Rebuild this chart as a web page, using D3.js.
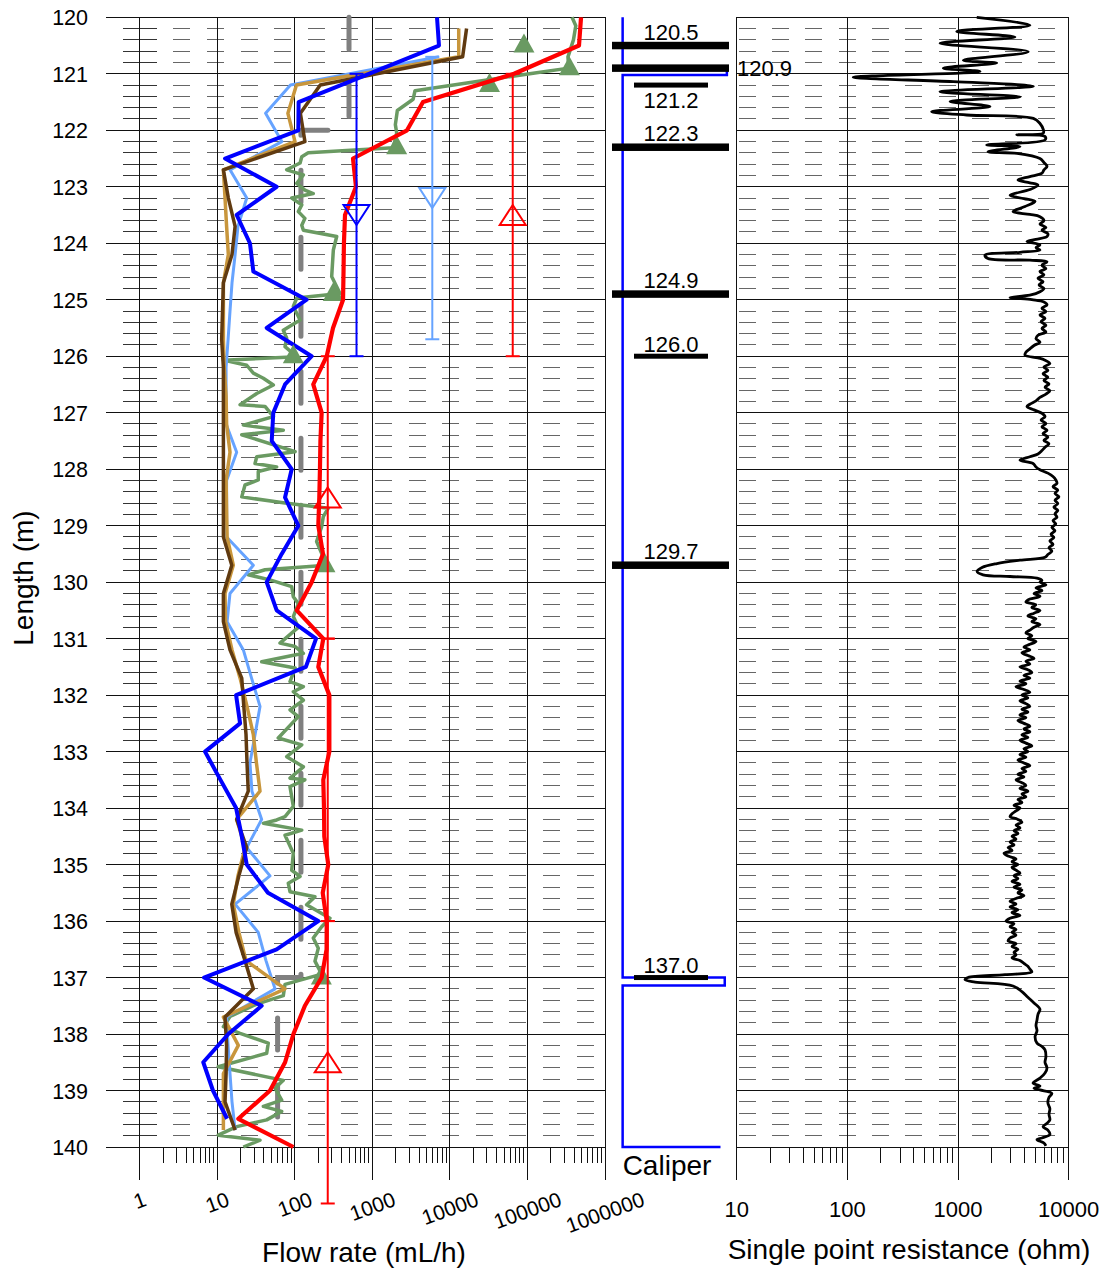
<!DOCTYPE html>
<html>
<head>
<meta charset="utf-8">
<script src="https://cdn.jsdelivr.net/npm/d3@7"></script>
<style>
  body { margin: 0; background: #fff; }
  svg { display: block; }
  text { font-family: "Liberation Sans", Arial, sans-serif; fill: #000; }
</style>
</head>
<body>
<svg id="chart" width="1106" height="1271"></svg>
<script>
// ---------- axis ticks ----------
const depthTicks = [120,121,122,123,124,125,126,127,128,129,130,131,132,133,134,135,136,137,138,139,140];
const flowTicks = [1, 10, 100, 1000, 10000, 100000, 1000000];
const resTicks = [10, 100, 1000, 10000];

// ---------- flow rate profiles (mL/h) ----------
// red: 0.5 m steps from 120.0 to 140.0
const redDepth = [120.0,120.5,121.0,121.5,122.0,122.5,123.0,123.5,124.0,124.5,125.0,125.5,126.0,126.5,127.0,127.5,128.0,128.5,129.0,129.5,130.0,130.5,131.0,131.5,132.0,132.5,133.0,133.5,134.0,134.5,135.0,135.5,136.0,136.5,137.0,137.5,138.0,138.5,139.0,139.5,140.0];
const redFlow = [491000,462000,67100,4500,2800,563,615,444,430,425,419,311,258,173,222,214,211,207,201,231,165,106,233,201,279,279,279,233,238,240,270,229,258,257,222,135,96,75,48,18.7,96];

// blue: 0.5 m steps from 120.0 to 139.5
const blueDepth = [120.0,120.5,121.0,121.5,122.0,122.5,123.0,123.5,124.0,124.5,125.0,125.5,126.0,126.5,127.0,127.5,128.0,128.5,129.0,129.5,130.0,130.5,131.0,131.5,132.0,132.5,133.0,133.5,134.0,134.5,135.0,135.5,136.0,136.5,137.0,137.5,138.0,138.5,139.0,139.5];
const blueFlow = [6820,7230,902,112,111,12.6,58.4,17.8,26.4,29.2,142,43.4,165,74.8,52.8,50.4,91.2,74.8,111,67.8,43.4,58.4,188,139,17.5,19.7,6.95,11,17.5,20.7,24,45,201,58.4,6.75,37.4,13.9,6.6,8.8,13.4];

// light blue: 0.5 m steps from 120.7 to 139.7
const lightDepth = [120.7,121.2,121.7,122.2,122.7,123.2,123.7,124.2,124.7,125.2,125.7,126.2,126.7,127.2,127.7,128.2,128.7,129.2,129.7,130.2,130.7,131.2,131.7,132.2,132.7,133.2,133.7,134.2,134.7,135.2,135.7,136.2,136.7,137.2,137.7,138.2,138.7,139.2,139.7];
const lightFlow = [7230,88,42,68,14.6,24,18.5,17,15.5,14.6,13.8,13,13,13,17.8,13.2,13.2,13.2,29.2,14.6,13.4,21.7,27.7,35.6,30.7,26.4,28,37.4,24,47.9,17,33.8,42.5,55.6,13.2,13.8,14.6,15.5,17];

// gold and brown: 0.5 m steps from 120.2 to 139.7
const shiftDepth = [120.2,120.7,121.2,121.7,122.2,122.7,123.2,123.7,124.2,124.7,125.2,125.7,126.2,126.7,127.2,127.7,128.2,128.7,129.2,129.7,130.2,130.7,131.2,131.7,132.2,132.7,133.2,133.7,134.2,134.7,135.2,135.7,136.2,136.7,137.2,137.7,138.2,138.7,139.2,139.7];
const goldFlow = [13000,13000,105,81.5,100.6,12,12.6,13.2,13.9,12,12,12,12.3,13,13.2,14.6,13,13.2,13.4,16.1,12.6,12.8,15.5,19.7,24.2,29.2,32,35.6,17.8,22.8,18.5,16.1,19,23.5,74.8,12,18.7,12,12,12];
const brownFlow = [16400,14600,213,118,135,12,13.9,17,15.5,12,11.7,11.4,12,12,12,12,12,12,12,15.4,12,12,14.6,20.7,22,23.5,24.2,25.1,17.8,24,19,15.4,17.5,22.8,29.2,12.6,13.2,13,12.6,17];

// green: fine-resolution profile
const greenDepth = [
  120.0,120.15,120.4,120.7,120.9,121.1,121.3,121.45,121.65,121.9,
  122.05,122.31,122.4,122.47,122.58,122.7,122.79,122.94,123.06,123.12,
  123.2,123.32,123.44,123.56,123.68,123.77,123.88,124.12,124.59,124.89,
  124.97,125.12,125.36,125.54,125.68,125.83,126.01,126.07,126.16,126.3,
  126.39,126.51,126.66,126.86,126.89,127.07,127.22,127.31,127.39,127.69,
  127.78,127.9,127.96,128.04,128.19,128.28,128.49,128.6,128.69,128.84,
  129.02,129.28,129.7,129.78,129.87,129.96,130.08,130.26,130.38,130.61,
  130.8,131.08,131.14,131.26,131.41,131.52,131.76,131.85,131.94,132.09,
  132.26,132.38,132.76,132.88,133.09,133.27,133.47,133.5,133.62,133.97,
  134.15,134.21,134.27,134.39,134.48,134.8,135.1,135.21,135.33,135.48,
  135.57,135.71,135.95,136.1,136.3,136.48,136.71,136.94,137.12,137.32,
  137.47,137.69,137.87,137.99,138.16,138.34,138.58,138.82,138.96,139.17,
  139.28,139.37,139.52,139.64,139.79,139.88,140.0];
const greenFlow = [
  376000,420000,392000,333000,340000,33200,3550,3360,2100,1980,
  2060,1860,149,123,117,78.6,129,106,135,173,
  91.2,123,111,135,123,129,347,314,299,383,
  106,95.7,117,71.1,78.6,74.8,106,12,24,29.2,
  39.3,52.9,32.3,19.7,41.3,52.9,21.7,71.1,20.7,101,
  32.3,30.7,58.4,33.8,33.8,22.8,20.7,74.8,270,233,
  222,191,258,41.3,25.1,47.9,91.2,95.7,111,95.7,
  111,64.4,101,129,37.4,101,86.7,129,95.7,129,
  86.7,111,61.2,123,78.6,129,86.7,135,86.7,95.7,
  74.8,58.4,39.3,123,74.8,95.7,91.2,117,82.4,86.7,
  182,142,284,222,173,201,182,222,74.8,71.1,
  32.3,14.6,12,19.7,45.5,43.4,10.3,71.1,55.6,67.8,
  39.3,67.8,43.4,17.8,10.3,35.6,21.7];

// green markers at the fracture depths
const greenMarkDepth = [120.5, 120.9, 121.2, 122.3, 124.9, 126.0, 129.7, 137.0];
const greenMarkFlow = [90200, 347000, 32400, 2060, 314, 95.7, 245, 220];

// lower measurement limit (step line)
const limitDepth = [120.0, 122.0, 122.0, 137.0, 137.0, 140.0];
const limitFlow = [500, 500, 120, 120, 60, 60];

// interval results: vertical range with a marker at the centre
const intSeries = ["blue", "light", "red", "red", "red", "red"];
const intFlow = [625, 5930, 64600, 266, 266, 266];
const intTop = [121.0, 120.7, 121.0, 126.0, 131.0, 136.0];
const intBottom = [126.0, 125.7, 126.0, 131.0, 136.0, 141.0];
const intMarker = ["down", "down", "up", "up", "none", "up"];

// ---------- fractures ----------
const fractureDepth = [120.5, 120.9, 121.2, 122.3, 124.9, 126.0, 129.7, 137.0];
const fractureMajor = [true, true, false, true, true, false, true, false];
const fractureLabelSide = ["above", "right", "below", "above", "above", "above", "above", "above"];

// ---------- caliper (mm) ----------
const caliperDepth = [120.0, 120.88, 120.88, 121.02, 121.02, 137.0, 137.0, 137.14, 137.14, 140.0, 140.0];
const caliperValue = [76, 76, 85.8, 85.8, 76, 76, 85.6, 85.6, 76, 76, 85.2];

// ---------- single point resistance (ohm) ----------
const resDepthUpper = [
  120.00,120.14,120.25,120.35,120.46,120.61,120.76,120.81,120.90,120.96,
  121.06,121.14,121.22,121.32,121.41,121.49,121.58,121.67,121.73,121.79,
  121.88,121.99,122.05,122.08,122.11,122.17,122.26,122.29,122.38,
  122.41,122.50,122.57,122.64,122.70,122.76,122.82,122.88,122.93,122.97,
  123.05,123.15,123.21,123.26,123.35,123.44,123.49,123.53,123.60,123.66,
  123.72,123.77,123.83,123.88,123.93,123.97,124.03,124.08,124.12,124.16,
  124.21,124.27,124.30,124.33,124.39,124.45,124.50,124.56,124.62,124.68,
  124.74,124.80,124.86,124.92,124.96,125.00,125.04,125.09,125.15,125.21,
  125.27,125.33,125.39,125.45,125.51,125.57,125.63,125.69,125.75,125.81,
  125.87,125.93,125.98,126.03,126.07,126.13,126.19,126.25,126.31,126.37,
  126.43,126.49,126.55,126.61,126.67,126.73,126.79,126.85,126.89,126.95,
  127.01,127.07,127.13,127.19,127.25,127.31,127.37,127.43,127.49,127.55,
  127.61,127.67,127.73,127.78,127.84,127.90,127.96,128.01,128.07,128.13,
  128.19,128.25,128.31,128.37,128.43,128.49,128.55,128.61,128.67,128.73,
  128.79,128.85,128.91,128.97,129.03,129.09,129.15,129.21,129.27,129.33,
  129.39,129.45,129.51,129.56,129.61,129.67,129.74,129.81,129.87,129.90,
  129.93,129.97];
const resValueUpper = [
  1476,4470,973,3271,687,4315,1116,2237,736,1581,
  113,905,4790,687,3628,847,1945,578,1198,4790,
  5500,5900,5900,3388,6110,6110,1816,3628,1866,
  3412,5499,5972,6368,5972,5731,4457,3480,4457,5277,
  4457,2951,3939,4962,4028,3140,4457,5499,5972,5499,
  6224,5731,6486,6368,5064,4198,5499,5064,5499,3627,
  1754,1866,4457,6368,5731,6224,5499,5972,5277,5861,
  5393,5972,5499,4457,2951,4645,5972,6368,5731,6224,
  5499,6109,5623,6224,5731,6224,5277,5064,5499,4860,
  4457,4104,4028,5277,6109,6759,5972,6486,5861,6486,
  5972,6637,6109,6759,6224,5499,5064,4457,4198,4860,
  5731,6109,5623,6224,5731,6368,5861,6486,5972,6637,
  6109,5731,5277,4457,3627,4760,5064,5499,6486,7211,
  7649,7834,7211,7971,7516,8166,7516,7971,7340,7971,
  7516,7834,7211,7649,7043,7516,6918,7340,6759,7211,
  6637,7043,6486,6109,3627,2249,1648,1486,1683,2951,
  5171,5731];

const resDepthMiddle = [
  130.00,130.05,130.10,130.15,130.20,130.25,130.30,130.35,130.40,130.45,
  130.50,130.55,130.60,130.65,130.70,130.75,130.80,130.85,130.90,130.95,
  131.00,131.05,131.10,131.15,131.20,131.25,131.30,131.35,131.40,131.45,
  131.50,131.55,131.60,131.65,131.70,131.75,131.80,131.85,131.90,131.95,
  132.00,132.05,132.10,132.15,132.20,132.25,132.30,132.35,132.40,132.45,
  132.50,132.55,132.60,132.65,132.70,132.75,132.80,132.85,132.90,132.95,
  133.00,133.05,133.10,133.15,133.20,133.25,133.30,133.35,133.40,133.45,
  133.50,133.55,133.60,133.65,133.70,133.75,133.80,133.85,133.90,133.95,
  134.00,134.05,134.10,134.15,134.20,134.25,134.30,134.35,134.40,134.45,
  134.50,134.55,134.60,134.65,134.70,134.75,134.80,134.85,134.90,134.95,
  135.00,135.05,135.10,135.15,135.20,135.25,135.30,135.35,135.40,135.45,
  135.50,135.55,135.60,135.65,135.70,135.75,135.80,135.85,135.90,135.95,
  136.00,136.05,136.10,136.15,136.20,136.25,136.30,136.35,136.40,136.45,
  136.50,136.55,136.60,136.65,136.70,136.75,136.80,136.85,136.90,136.95,
  137.00];
const resValueMiddle = [
  5499,6224,5064,5731,4860,5499,4457,4104,5064,4645,
  5499,4860,4277,5064,4645,5499,4860,4457,4104,4645,
  4277,5064,4457,3939,4457,3779,4277,4860,4104,4457,
  3627,4277,4645,3939,4457,3627,4104,3339,3939,4457,
  3779,4277,3627,4104,4457,3779,4277,3627,4104,3480,
  3939,4457,3939,4457,3779,4277,3627,4104,4645,3939,
  4277,3627,4104,3480,3939,4457,3779,4104,3480,3939,
  3339,3779,4104,3627,4277,3779,4104,3480,3779,3204,
  3627,3339,3075,2951,3480,3779,3339,3627,3204,3480,
  3075,3339,2951,3204,2832,3075,2604,2832,3339,3075,
  3480,3075,3339,3627,3204,3480,3075,3627,3204,3779,
  3480,3939,3339,2951,3339,2951,3480,3075,3627,2951,
  2716,3204,2951,3339,3075,3339,2951,2832,3339,3075,
  3480,3204,3339,3075,3627,3939,4277,4457,4645,2659,
  1231];

const resDepthLower = [
  137.04,137.08,137.15,137.25,137.35,137.45,137.56,137.65,137.75,137.85,
  137.94,138.05,138.16,138.22,138.28,138.40,138.50,138.60,138.69,138.78,
  138.87,138.92,138.96,138.99,139.05,139.12,139.22,139.32,139.42,139.52,
  139.58,139.64,139.70,139.78,139.84,139.87,139.93,139.98];
const resValueLower = [
  1157,1426,3140,3779,4277,4860,5499,5277,5171,5064,
  5171,4962,5171,5731,6109,6224,6109,6368,6109,5499,
  4760,5499,4860,5499,7043,6637,6486,6759,6637,6759,
  6368,5861,6486,6759,5731,5171,5972,6224];

// ---------- layout ----------
const svg = d3.select("#chart");

const y = d3.scaleLinear().domain([120, 140]).range([17.3, 1147]);
const xFlow = d3.scaleLog().domain([1, 1e6]).range([139.7, 605]);
const xRes = d3.scaleLog().domain([10, 10000]).range([736.7, 1068.7]);
const xCal = d3.scaleLinear().domain([75, 86]).range([612, 729]);

const flowLeft = 106, flowRight = xFlow(1e6);
const resLeft = xRes(10), resRight = xRes(10000);
const yTop = y(120), yBot = y(140), majorTickEnd = 1180, minorTickEnd = 1163;

const minorDepths = d3.range(120, 140, 0.2).map(d => +d.toFixed(1)).filter(d => Math.abs(d - Math.round(d)) > 0.01);

const colors = { red: "#ff0000", blue: "#0000ff", light: "#66a3ff", gold: "#c8963c", brown: "#603a10", green: "#6a9a62", gray: "#808080" };

const grid = svg.append("g");

// --- panel grids ---
minorDepths.forEach(d => {
  grid.append("line").attr("x1", 123).attr("x2", 157).attr("y1", y(d)).attr("y2", y(d))
    .attr("stroke", "#333").attr("stroke-width", 1).attr("shape-rendering", "crispEdges");
  grid.append("line").attr("x1", 173.3).attr("x2", flowRight - 8).attr("y1", y(d)).attr("y2", y(d))
    .attr("stroke", "#666").attr("stroke-width", 1).attr("stroke-dasharray", "17,16.6").attr("shape-rendering", "crispEdges");
  grid.append("line").attr("x1", resLeft + 2).attr("x2", resRight - 8).attr("y1", y(d)).attr("y2", y(d))
    .attr("stroke", "#666").attr("stroke-width", 1).attr("stroke-dasharray", "17,16.3").attr("shape-rendering", "crispEdges");
});
depthTicks.forEach(d => {
  grid.append("line").attr("x1", flowLeft).attr("x2", flowRight).attr("y1", y(d)).attr("y2", y(d))
    .attr("stroke", "#111").attr("stroke-width", 1).attr("shape-rendering", "crispEdges");
  grid.append("line").attr("x1", resLeft).attr("x2", resRight).attr("y1", y(d)).attr("y2", y(d))
    .attr("stroke", "#111").attr("stroke-width", 1).attr("shape-rendering", "crispEdges");
});
flowTicks.forEach(v => {
  grid.append("line").attr("x1", xFlow(v)).attr("x2", xFlow(v)).attr("y1", yTop).attr("y2", majorTickEnd)
    .attr("stroke", "#111").attr("stroke-width", 1).attr("shape-rendering", "crispEdges");
});
resTicks.forEach(v => {
  grid.append("line").attr("x1", xRes(v)).attr("x2", xRes(v)).attr("y1", yTop).attr("y2", majorTickEnd)
    .attr("stroke", "#111").attr("stroke-width", 1).attr("shape-rendering", "crispEdges");
});
// minor log ticks below each panel
function minorTicks(scale, decades) {
  decades.forEach(dec => {
    for (let m = 2; m <= 9; m++) {
      const xv = scale(m * dec);
      grid.append("line").attr("x1", xv).attr("x2", xv).attr("y1", yBot).attr("y2", minorTickEnd)
        .attr("stroke", "#111").attr("stroke-width", 1).attr("shape-rendering", "crispEdges");
    }
  });
}
minorTicks(xFlow, flowTicks.slice(0, -1));
minorTicks(xRes, resTicks.slice(0, -1));

// --- depth axis labels ---
depthTicks.forEach(d => {
  svg.append("text").attr("x", 88).attr("y", y(d) + 1).attr("text-anchor", "end")
    .attr("dominant-baseline", "central").attr("font-size", 21.5).text(d);
});
svg.append("text").attr("transform", "translate(33, 578) rotate(-90)")
  .attr("text-anchor", "middle").attr("font-size", 28).text("Length (m)");

// --- flow axis labels (tilted) ---
const tilt = 20 * Math.PI / 180;
flowTicks.forEach(v => {
  const t = svg.append("text").attr("font-size", 21).attr("text-anchor", "middle")
    .attr("dominant-baseline", "central").text(String(v));
  const w = t.node().getComputedTextLength();
  const boxH = w * Math.sin(tilt) + 15.5 * Math.cos(tilt);
  t.attr("transform", `translate(${xFlow(v)}, ${1191 + boxH / 2}) rotate(-20)`);
});
svg.append("text").attr("x", 364).attr("y", 1262).attr("text-anchor", "middle")
  .attr("font-size", 28).text("Flow rate (mL/h)");

// --- resistance axis labels ---
resTicks.forEach(v => {
  svg.append("text").attr("x", xRes(v)).attr("y", 1217).attr("text-anchor", "middle")
    .attr("font-size", 22).text(String(v));
});
svg.append("text").attr("x", 909).attr("y", 1259).attr("text-anchor", "middle")
  .attr("font-size", 28).text("Single point resistance (ohm)");

// --- caliper label ---
svg.append("text").attr("x", 667).attr("y", 1175).attr("text-anchor", "middle")
  .attr("font-size", 28).text("Caliper");

// ---------- flow profiles ----------
const marks = svg.append("g");
const flowLine = d3.line().x(p => xFlow(p[1])).y(p => y(p[0]));

marks.append("path").datum(d3.zip(limitDepth, limitFlow)).attr("d", flowLine)
  .attr("fill", "none").attr("stroke", colors.gray).attr("stroke-width", 5)
  .attr("stroke-dasharray", "32,35").attr("stroke-linecap", "round");

function drawProfile(depths, values, color, width) {
  marks.append("path").datum(d3.zip(depths, values)).attr("d", flowLine)
    .attr("fill", "none").attr("stroke", color).attr("stroke-width", width)
    .attr("stroke-linejoin", "round");
}
drawProfile(greenDepth, greenFlow, colors.green, 3.5);
drawProfile(lightDepth, lightFlow, colors.light, 3);
drawProfile(shiftDepth, goldFlow, colors.gold, 3.5);
drawProfile(shiftDepth, brownFlow, colors.brown, 3.5);
drawProfile(blueDepth, blueFlow, colors.blue, 4);

function tri(cx, cy, w, h, up) {
  return up
    ? `M${cx},${cy - h / 2}L${cx + w / 2},${cy + h / 2}L${cx - w / 2},${cy + h / 2}Z`
    : `M${cx},${cy + h / 2}L${cx + w / 2},${cy - h / 2}L${cx - w / 2},${cy - h / 2}Z`;
}
greenMarkDepth.forEach((d, i) => {
  marks.append("path").attr("d", tri(xFlow(greenMarkFlow[i]), y(d) - 2.5, 21, 19, true))
    .attr("fill", colors.green).attr("stroke", "none");
});

drawProfile(redDepth, redFlow, colors.red, 4.2);

// interval ranges
intFlow.forEach((v, i) => {
  const c = colors[intSeries[i]];
  const xv = xFlow(v), y1 = y(intTop[i]), y2 = y(intBottom[i]);
  marks.append("line").attr("x1", xv).attr("x2", xv).attr("y1", y1).attr("y2", y2)
    .attr("stroke", c).attr("stroke-width", 2);
  [y1, y2].forEach(yy => marks.append("line").attr("x1", xv - 7).attr("x2", xv + 7)
    .attr("y1", yy).attr("y2", yy).attr("stroke", c).attr("stroke-width", 2));
  if (intMarker[i] !== "none") {
    const mid = y((intTop[i] + intBottom[i]) / 2);
    marks.append("path").attr("d", tri(xv, mid, 26, 20, intMarker[i] === "up"))
      .attr("fill", "none").attr("stroke", c).attr("stroke-width", 2);
  }
});

// ---------- caliper and fractures ----------
const cal = svg.append("g");
cal.append("path").datum(d3.zip(caliperDepth, caliperValue))
  .attr("d", d3.line().x(p => xCal(p[1])).y(p => y(p[0])))
  .attr("fill", "none").attr("stroke", colors.blue).attr("stroke-width", 2.5);

fractureDepth.forEach((d, i) => {
  const major = fractureMajor[i];
  const x1 = major ? 612 : 634, x2 = major ? 729 : 708;
  const h = major ? 7.5 : 5;
  cal.append("rect").attr("x", x1).attr("y", y(d) - h / 2).attr("width", x2 - x1).attr("height", h)
    .attr("fill", "#000");
  const side = fractureLabelSide[i];
  const t = cal.append("text").attr("font-size", 22).text(d.toFixed(1));
  if (side === "above") t.attr("x", 671).attr("y", y(d) - h / 2 - 2).attr("text-anchor", "middle");
  else if (side === "below") t.attr("x", 671).attr("y", y(d) + 23).attr("text-anchor", "middle");
  else t.attr("x", 737).attr("y", y(d) + 8).attr("text-anchor", "start");
});

// ---------- resistance log ----------
const resPoints = d3.zip(resDepthUpper, resValueUpper)
  .concat(d3.zip(resDepthMiddle, resValueMiddle))
  .concat(d3.zip(resDepthLower, resValueLower));
svg.append("path").datum(resPoints)
  .attr("d", d3.line().x(p => xRes(p[1])).y(p => y(p[0])).curve(d3.curveCatmullRom.alpha(0.5)))
  .attr("fill", "none").attr("stroke", "#000").attr("stroke-width", 2.8)
  .attr("stroke-linejoin", "round");
</script>
</body>
</html>
